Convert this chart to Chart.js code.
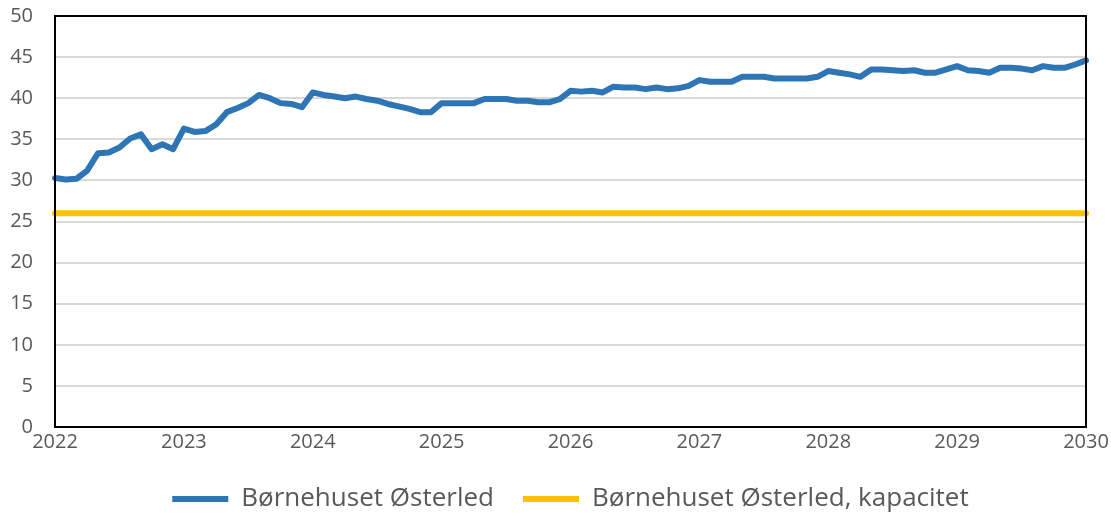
<!DOCTYPE html>
<html lang="da">
<head>
<meta charset="utf-8">
<title>Børnehuset Østerled</title>
<script src="https://cdn.jsdelivr.net/npm/chart.js@4"></script>
<style>
  html, body { margin: 0; padding: 0; background: #fff; }
  #wrap { width: 1111px; height: 522px; }
</style>
</head>
<body>
<div id="wrap"><canvas id="chart"></canvas></div>
<script>
// monthly values, jan 2022 .. jan 2030
const years = [2022, 2023, 2024, 2025, 2026, 2027, 2028, 2029, 2030];
const children = [
  30.3, 30.1, 30.2, 31.2, 33.3, 33.4, 34.0, 35.1, 35.6, 33.8, 34.4, 33.8,
  36.3, 35.9, 36.0, 36.8, 38.3, 38.8, 39.4, 40.4, 40.0, 39.4, 39.3, 38.9,
  40.7, 40.4, 40.2, 40.0, 40.2, 39.9, 39.7, 39.3, 39.0, 38.7, 38.3, 38.3,
  39.4, 39.4, 39.4, 39.4, 39.9, 39.9, 39.9, 39.7, 39.7, 39.5, 39.5, 39.9,
  40.9, 40.8, 40.9, 40.7, 41.4, 41.3, 41.3, 41.1, 41.3, 41.1, 41.2, 41.5,
  42.2, 42.0, 42.0, 42.0, 42.6, 42.6, 42.6, 42.4, 42.4, 42.4, 42.4, 42.6,
  43.3, 43.1, 42.9, 42.6, 43.5, 43.5, 43.4, 43.3, 43.4, 43.1, 43.1, 43.5,
  43.9, 43.4, 43.3, 43.1, 43.7, 43.7, 43.6, 43.4, 43.9, 43.7, 43.7, 44.1,
  44.6
];
const capacity = 26;
const seriesNames = ['Børnehuset Østerled', 'Børnehuset Østerled, kapacitet'];

const labels = [];
for (let i = 0; i < children.length; i++) {
  labels.push(years[0] + Math.floor(i / 12) + '-' + String(i % 12 + 1).padStart(2, '0'));
}
const capLine = children.map(() => capacity);

// frame round the plot area, like the Excel original
const frame = {
  id: 'frame',
  afterDatasetsDraw(chart) {
    const a = chart.chartArea, c = chart.ctx;
    c.save();
    c.strokeStyle = '#000';
    c.lineWidth = 2;
    c.strokeRect(a.left, a.top, a.right - a.left, a.bottom - a.top);
    c.restore();
  }
};

Chart.defaults.font.family = '"Open Sans", "Noto Sans", sans-serif';
Chart.defaults.font.size = 20;
Chart.defaults.color = '#595959';

new Chart(document.getElementById('chart'), {
  type: 'line',
  data: {
    labels: labels,
    datasets: [{
      label: seriesNames[0],
      data: children,
      borderColor: '#2e75b6',
      backgroundColor: '#2e75b6',
      borderWidth: 6,
      pointRadius: 0,
      tension: 0,
      borderJoinStyle: 'round',
      borderCapStyle: 'round'
    }, {
      label: seriesNames[1],
      data: capLine,
      borderColor: '#ffc000',
      backgroundColor: '#ffc000',
      borderWidth: 6,
      pointRadius: 0,
      borderCapStyle: 'round'
    }]
  },
  plugins: [frame],
  options: {
    responsive: true,
    maintainAspectRatio: false,
    animation: false,
    layout: { padding: { left: 8, right: 25, top: 16, bottom: 0 } },
    scales: {
      x: {
        grid: { display: false, drawTicks: false },
        border: { display: false },
        afterFit: function (s) {
          s.paddingLeft = 0;
          s.paddingRight = 0;
        },
        ticks: {
          autoSkip: false,
          maxRotation: 0,
          padding: 3,
          callback: function (v, i) {
            return i % 12 === 0 ? String(years[i / 12]) : null;
          }
        }
      },
      y: {
        min: 0,
        max: 50,
        afterFit: function (s) {
          s.width = 47;
          s.paddingTop = 0;
          s.paddingBottom = 0;
        },
        grid: { color: '#d9d9d9', lineWidth: 2, drawTicks: false },
        border: { display: false },
        ticks: { stepSize: 5, padding: 22 }
      }
    },
    plugins: {
      tooltip: { enabled: false },
      legend: {
        position: 'bottom',
        fullSize: false,
        labels: {
          usePointStyle: true,
          pointStyle: 'line',
          pointStyleWidth: 56,
          padding: 29,
          color: '#595959',
          font: { size: 26 }
        }
      }
    }
  }
});
</script>
</body>
</html>
